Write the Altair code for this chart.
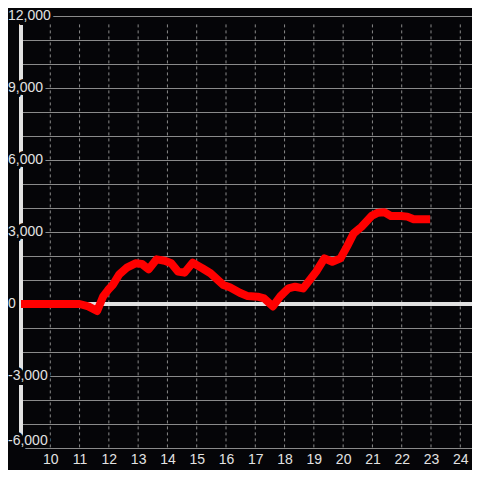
import altair as alt
import pandas as pd

# ---- data ----
hours = [9.0, 10.0, 11.0, 11.3, 11.6, 11.8, 11.97, 12.13, 12.36, 12.63, 12.91, 13.13,
         13.36, 13.63, 13.91, 14.13, 14.36, 14.58, 14.86, 15.19, 15.47, 15.91, 16.13,
         16.47, 16.74, 17.08, 17.3, 17.6, 17.86, 18.13, 18.36, 18.63, 18.86, 19.08,
         19.36, 19.63, 19.91, 20.13, 20.36, 20.63, 20.97, 21.19, 21.41, 21.63, 21.97,
         22.19, 22.41, 22.97]
values = [0, 0, 0, -100, -290, 305, 580, 790, 1240, 1530, 1695, 1667,
          1445, 1860, 1805, 1695, 1350, 1305, 1720, 1490, 1280, 790, 695,
          470, 330, 305, 235, -100, 330, 650, 720, 650, 1000, 1350,
          1900, 1760, 1900, 2390, 2945, 3220, 3670, 3805, 3820, 3670, 3670,
          3640, 3530, 3530]

x_ticks = [10, 11, 12, 13, 14, 15, 16, 17, 18, 19, 20, 21, 22, 23, 24]
y_grid = [-6000, -5000, -4000, -3000, -2000, -1000, 0, 1000, 2000, 3000,
          4000, 5000, 6000, 7000, 8000, 9000, 10000, 11000, 12000]
y_label_values = [12000, 9000, 6000, 3000, 0, -3000, -6000]
y_label_texts = ["12,000", "9,000", "6,000", "3,000", "0", "-3,000", "-6,000"]

BG = "#050508"
FG = "#e2e2e2"
GRID = "#8a8a8a"
FONT = "Liberation Sans"

df = pd.DataFrame({"h": hours, "v": values})
xdf = pd.DataFrame({"h": x_ticks})
ldf = pd.DataFrame({"v": y_label_values, "t": y_label_texts})

xscale = alt.Scale(domain=[9, 24.4], nice=False, zero=False)
yscale = alt.Scale(domain=[-6000, 12000], nice=False)

xaxis = alt.Axis(values=x_ticks, grid=False, domain=False, ticks=False,
                 tickSize=0, labelPadding=4, labelFontSize=14, labelFont=FONT,
                 labelColor=FG, labelFlush=False, labelOverlap=False,
                 labelBound=False, title=None)
yaxis = alt.Axis(values=y_grid, grid=True, gridColor=GRID, gridWidth=1,
                 domain=False, ticks=False, labels=False, title=None)


def X(field=None, datum=None):
    if datum is not None:
        return alt.X(datum=datum, type="quantitative", scale=xscale, axis=xaxis)
    return alt.X(field, type="quantitative", scale=xscale, axis=xaxis)


def Y(field=None, datum=None):
    if datum is not None:
        return alt.Y(datum=datum, type="quantitative", scale=yscale, axis=yaxis)
    return alt.Y(field, type="quantitative", scale=yscale, axis=yaxis)


vgrid = alt.Chart(xdf).mark_rule(color=GRID, strokeWidth=1, strokeDash=[3, 3]).encode(
    x=X("h"), y=Y(datum=11650), y2=alt.datum(-6000)
)

zero = alt.Chart(df).mark_rule(color=FG, strokeWidth=3).encode(y=Y(datum=0))

yline = alt.Chart(df).mark_rule(color=FG, strokeWidth=3).encode(
    x=X(datum=9), y=Y(datum=11650), y2=alt.datum(-6000)
)

line = alt.Chart(df).mark_line(
    color="#ff0000", strokeWidth=8, strokeJoin="round", strokeCap="butt"
).encode(x=X("h"), y=Y("v"))


def labels(base_df, filt, baseline, back):
    kw = dict(align="left", baseline=baseline, fontSize=14, font=FONT)
    if back:
        kw.update(color=BG, stroke=BG, strokeWidth=6, strokeJoin="miter")
    else:
        kw.update(color=FG)
    return alt.Chart(base_df).transform_filter(filt).mark_text(**kw).encode(
        x=alt.value(-13), y=Y("v"), text="t:N"
    )


lab_bg1 = labels(ldf, "datum.v > -6000", "middle", True)
lab_bg2 = labels(ldf, "datum.v <= -6000", "bottom", True)
lab1 = labels(ldf, "datum.v > -6000", "middle", False)
lab2 = labels(ldf, "datum.v <= -6000", "bottom", False)

chart = alt.layer(vgrid, zero, yline, line, lab_bg1, lab_bg2, lab1, lab2).properties(
    width=451, height=432,
    autosize=alt.AutoSizeParams(type="none"),
    padding={"left": 13, "top": 8, "right": 0, "bottom": 22},
    background=BG,
).configure_view(stroke=None)

chart.save("out.html", embed_options={"renderer": "svg", "actions": False})
